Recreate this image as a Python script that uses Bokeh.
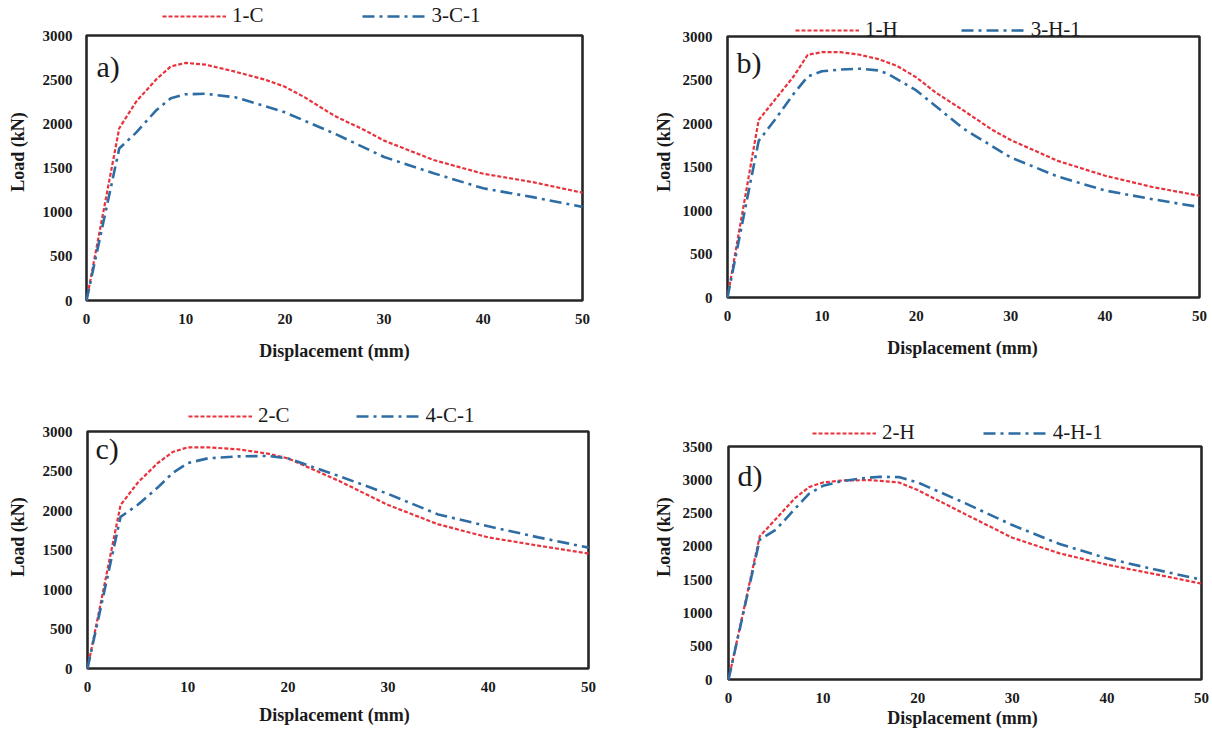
from bokeh.plotting import figure
from bokeh.models import Range1d, FixedTicker, Legend, LegendItem, Label, BoxAnnotation
from bokeh.layouts import column, row
from bokeh.embed import file_html
from bokeh.resources import INLINE

# ---------------- data ----------------
x_ticks = [0, 10, 20, 30, 40, 50]
y_ticks_3000 = [0, 500, 1000, 1500, 2000, 2500, 3000]
y_ticks_3500 = [0, 500, 1000, 1500, 2000, 2500, 3000, 3500]

# a)
disp_1C = [0, 3.3, 5, 7, 8.5, 10, 12, 15, 18, 20, 22, 25, 28, 30, 35, 40, 45, 50]
load_1C = [0, 1950, 2250, 2500, 2650, 2690, 2670, 2590, 2500, 2420, 2300, 2090, 1930, 1810, 1590, 1435, 1340, 1220]
disp_3C1 = [0, 3.3, 5, 7, 8.5, 10, 12, 15, 18, 20, 25, 30, 35, 40, 45, 50]
load_3C1 = [0, 1720, 1900, 2150, 2290, 2335, 2340, 2300, 2200, 2130, 1890, 1625, 1440, 1270, 1170, 1060]

# b)
disp_1H = [0, 3.3, 5, 7, 8.5, 10, 12, 14, 16, 18, 20, 22, 25, 28, 30, 35, 40, 45, 50]
load_1H = [0, 2040, 2270, 2540, 2790, 2820, 2820, 2790, 2740, 2660, 2530, 2360, 2150, 1930, 1810, 1570, 1400, 1270, 1170]
disp_3H1 = [0, 3.3, 5, 7, 8.5, 10, 12, 14, 16, 17, 20, 25, 30, 35, 40, 45, 50]
load_3H1 = [0, 1800, 2040, 2340, 2540, 2600, 2620, 2630, 2610, 2570, 2380, 1940, 1610, 1390, 1230, 1130, 1040]

# c)
disp_2C = [0, 3.3, 5, 7, 8.5, 10, 12, 15, 18, 20, 25, 30, 35, 40, 45, 50]
load_2C = [0, 2070, 2350, 2600, 2740, 2800, 2800, 2775, 2720, 2660, 2380, 2070, 1825, 1660, 1555, 1455]
disp_4C1 = [0, 3.3, 5, 7, 8.5, 10, 12, 15, 18, 20, 25, 30, 35, 40, 45, 50]
load_4C1 = [0, 1920, 2070, 2290, 2475, 2600, 2660, 2685, 2690, 2660, 2440, 2210, 1950, 1800, 1660, 1530]

# d)
disp_2H = [0, 3.3, 5, 7, 8.5, 10, 12, 15, 18, 20, 25, 30, 35, 40, 45, 50]
load_2H = [0, 2150, 2410, 2720, 2890, 2960, 2990, 2995, 2960, 2845, 2485, 2130, 1895, 1725, 1585, 1440]
disp_4H1 = [0, 3.3, 5, 7, 8.5, 10, 12, 14, 16, 18, 20, 25, 30, 35, 40, 45, 50]
load_4H1 = [0, 2100, 2250, 2560, 2790, 2910, 2980, 3020, 3045, 3040, 2960, 2650, 2320, 2035, 1820, 1655, 1500]

RED = "#E8323C"
BLUE = "#2E6DA4"
FONT = "Liberation Serif"
INK = "#1a1a1a"

# figure geometry (page pixels)
COL = [dict(x0=0, w=604, bl=76, br=12), dict(x0=604, w=606, bl=116, br=6)]
ROW = [dict(y0=0, h=392, bt=0, bb=89), dict(y0=392, h=340, bt=0, bb=51)]


def make_panel(ci, ri, box, letter, letter_px, ymax, yticks, red, blue,
               leg_px, leg_spacing, xtick_so, xlab_so, ytick_so, ylab_so):
    c, r = COL[ci], ROW[ri]
    fl = c["x0"] + c["bl"]
    fr = c["x0"] + c["w"] - c["br"]
    ft = r["y0"] + r["bt"]
    fb = r["y0"] + r["h"] - r["bb"]
    bx0, bx1, by0, by1 = box  # plot-area box: left, right, top, bottom
    ppx = (bx1 - bx0) / 50.0
    ppy = (by1 - by0) / float(ymax)
    xr = Range1d(-(bx0 - fl) / ppx, 50 + (fr - bx1) / ppx)
    yr = Range1d(-(fb - by1) / ppy, ymax + (by0 - ft) / ppy)

    def to_data(px, py):
        return (px - bx0) / ppx, (by1 - py) / ppy

    p = figure(width=c["w"], height=r["h"], output_backend="svg",
               toolbar_location=None, x_range=xr, y_range=yr,
               min_border_left=c["bl"], min_border_right=c["br"],
               min_border_top=r["bt"], min_border_bottom=r["bb"])
    p.xgrid.visible = False
    p.ygrid.visible = False
    p.outline_line_color = None
    p.background_fill_color = "white"
    p.border_fill_color = "white"

    for ax, ticks in ((p.xaxis[0], x_ticks), (p.yaxis[0], yticks)):
        ax.ticker = FixedTicker(ticks=ticks)
        ax.axis_line_color = None
        ax.major_tick_line_color = None
        ax.minor_tick_line_color = None
        ax.major_tick_out = 0
        ax.major_tick_in = 0
        ax.major_label_text_font = FONT
        ax.major_label_text_font_style = "bold"
        ax.major_label_text_font_size = "15px"
        ax.major_label_text_color = INK
        ax.axis_label_text_font = FONT
        ax.axis_label_text_font_style = "bold"
        ax.axis_label_text_font_size = "18px"
        ax.axis_label_text_color = INK
    p.xaxis.axis_label = "Displacement (mm)"
    p.yaxis.axis_label = "Load (kN)"
    p.xaxis.major_label_standoff = xtick_so
    p.yaxis.major_label_standoff = ytick_so
    p.xaxis.axis_label_standoff = xlab_so
    p.yaxis.axis_label_standoff = ylab_so

    p.add_layout(BoxAnnotation(left=0, right=50, bottom=0, top=ymax,
                               fill_alpha=0, line_color="#262626",
                               line_alpha=1.0, line_width=2.6,
                               level="underlay"))

    (rx, ry, rname), (bxs, bys, bname) = red, blue
    r1 = p.line(rx, ry, line_color=RED, line_width=2.2, line_dash="4 2")
    r2 = p.line(bxs, bys, line_color=BLUE, line_width=2.6, line_dash="12 5 3 5")

    lx, lcy = leg_px
    leg = Legend(items=[LegendItem(label=rname, renderers=[r1]),
                        LegendItem(label=bname, renderers=[r2])],
                 location=(lx - fl, fb - (lcy + 12)), orientation="horizontal",
                 spacing=leg_spacing, label_standoff=6, glyph_width=64,
                 glyph_height=24, label_height=24, padding=0, margin=0,
                 border_line_color=None, background_fill_alpha=0,
                 label_text_font=FONT, label_text_font_size="21px",
                 label_text_color=INK)
    p.add_layout(leg)

    tx, ty = to_data(*letter_px)
    p.add_layout(Label(x=tx, y=ty, text=letter, text_font=FONT,
                       text_font_size="30px", text_color=INK,
                       text_baseline="middle", text_align="left"))
    return p


pa = make_panel(0, 0, (86, 582, 35, 300), "a)", (96, 66), 3000, y_ticks_3000,
                (disp_1C, load_1C, "1-C"), (disp_3C1, load_3C1, "3-C-1"),
                (162, 16), 98, 10, 14, 4, 12)
pb = make_panel(1, 0, (727, 1199, 36, 297), "b)", (736, 62), 3000, y_ticks_3000,
                (disp_1H, load_1H, "1-H"), (disp_3H1, load_3H1, "3-H-1"),
                (795, 30), 63, 7, 14, 8, 6)
pc = make_panel(0, 1, (87, 588, 431, 668), "c)", (95, 448), 3000, y_ticks_3000,
                (disp_2C, load_2C, "2-C"), (disp_4C1, load_4C1, "4-C-1"),
                (188, 416), 66, 0, 10, 4, 12)
pd = make_panel(1, 1, (728, 1201, 446, 679), "d)", (737, 475), 3500, y_ticks_3500,
                (disp_2H, load_2H, "2-H"), (disp_4H1, load_4H1, "4-H-1"),
                (812, 433), 68, 11, 2, 8, 6)

layout = column(row(pa, pb), row(pc, pd))
open("out.html", "w").write(file_html(layout, INLINE))
